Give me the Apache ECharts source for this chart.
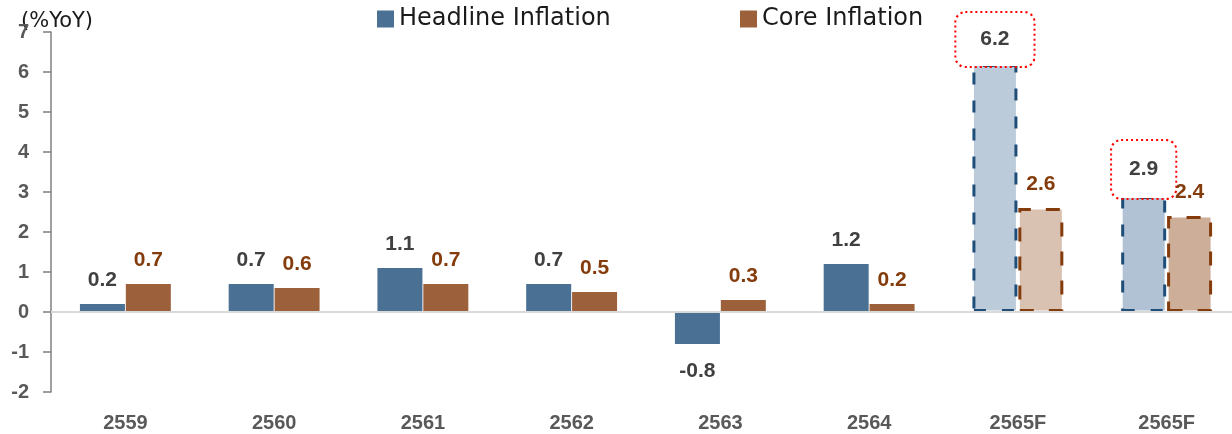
<!DOCTYPE html>
<html>
<head>
<meta charset="utf-8">
<script src="https://cdn.jsdelivr.net/npm/echarts@6/dist/echarts.min.js"></script>
<style>
  html, body { margin: 0; padding: 0; background: #fff; }
  #chart { width: 1232px; height: 434px; }
</style>
</head>
<body>
<div id="chart"></div>
<script>
var years = ['2559', '2560', '2561', '2562', '2563', '2564', '2565F', '2565F'];
var headline = [0.2, 0.7, 1.1, 0.7, -0.8, 1.2, 6.2, 2.9];
var core = [0.7, 0.6, 0.7, 0.5, 0.3, 0.2, 2.6, 2.4];
var yTicks = [-2, -1, 0, 1, 2, 3, 4, 5, 6, 7];

var blue = '#4A7094', brown = '#9C603A';
var textFont = 'DejaVu Sans';
var numFont = 'Liberation Sans';

// forecast columns (last two) get light fill + dashed border
var headFill = ['#BCCBDA', '#B0C2D3'];
var coreFill = ['#D9C2B1', '#CDAE98'];
var boxPad = [[16, 24], [18, 17]];

function buildHead() {
    var arr = [];
    for (var i = 0; i < headline.length; i++) {
        var item = { value: headline[i] };
        if (headline[i] < 0) {
            item.label = { position: 'bottom', distance: 17 };
        }
        if (i >= 6) {
            item.itemStyle = {
                color: headFill[i - 6],
                borderColor: '#1F4E79',
                borderWidth: 3,
                borderType: [12, 16]
            };
            item.label = {
                distance: -2,
                backgroundColor: '#fff',
                borderColor: '#FF0000',
                borderWidth: 2,
                borderType: [2, 3],
                borderRadius: 9,
                padding: boxPad[i - 6]
            };
        }
        arr.push(item);
    }
    return arr;
}

function buildCore() {
    var arr = [];
    for (var i = 0; i < core.length; i++) {
        var item = { value: core[i] };
        if (i >= 6) {
            item.itemStyle = {
                color: coreFill[i - 6],
                borderColor: '#843C0C',
                borderWidth: 3,
                borderType: [14, 15]
            };
        }
        arr.push(item);
    }
    return arr;
}

var myChart = echarts.init(document.getElementById('chart'));
var option = {
    animation: false,
    backgroundColor: '#fff',
    textStyle: { fontFamily: textFont },
    legend: [
        {
            data: ['Headline Inflation'],
            left: 372, top: 2,
            icon: 'rect', itemWidth: 17, itemHeight: 17, itemGap: 8,
            textStyle: { fontSize: 24, color: '#1a1a1a', fontFamily: textFont }
        },
        {
            data: ['Core Inflation'],
            left: 735, top: 2,
            icon: 'rect', itemWidth: 17, itemHeight: 17, itemGap: 8,
            textStyle: { fontSize: 24, color: '#1a1a1a', fontFamily: textFont }
        }
    ],
    grid: {
        left: 51,
        width: 1190,
        top: 32,
        bottom: 42,
        containLabel: false,
        outerBoundsMode: 'none'
    },
    xAxis: {
        type: 'category',
        data: years,
        axisLine: { show: false, onZero: false },
        axisTick: { show: false },
        axisLabel: {
            margin: 21,
            fontSize: 20,
            fontWeight: 'bold',
            fontFamily: numFont,
            color: '#595959'
        }
    },
    yAxis: {
        type: 'value',
        min: yTicks[0],
        max: yTicks[yTicks.length - 1],
        interval: 1,
        name: '(%YoY)',
        nameLocation: 'end',
        nameGap: 0,
        nameMoveOverlap: false,
        nameTextStyle: {
            fontSize: 21,
            color: '#1a1a1a',
            align: 'left',
            verticalAlign: 'bottom',
            padding: [0, 0, 0, -30]
        },
        splitLine: { show: false },
        axisLine: { show: true, lineStyle: { color: '#7F7F7F', width: 1.5 } },
        axisTick: { show: true, length: 8, lineStyle: { color: '#7F7F7F', width: 1.5 } },
        axisLabel: {
            margin: 22,
            fontSize: 20,
            fontWeight: 'bold',
            fontFamily: numFont,
            color: '#595959'
        }
    },
    series: [
        {
            name: 'Headline Inflation',
            type: 'bar',
            barWidth: 45,
            barGap: '2%',
            itemStyle: { color: blue },
            label: {
                show: true,
                position: 'top',
                distance: 13,
                fontSize: 21,
                fontWeight: 'bold',
                fontFamily: numFont,
                color: '#404040',
                formatter: function (p) { return p.value.toFixed(1); }
            },
            data: buildHead()
        },
        {
            name: 'Core Inflation',
            type: 'bar',
            barWidth: 45,
            itemStyle: { color: brown },
            label: {
                show: true,
                position: 'top',
                distance: 13,
                fontSize: 21,
                fontWeight: 'bold',
                fontFamily: numFont,
                color: '#843C0C',
                formatter: function (p) { return p.value.toFixed(1); }
            },
            markLine: {
                silent: true,
                symbol: 'none',
                label: { show: false },
                lineStyle: { color: '#D9D9D9', width: 2, type: 'solid' },
                data: [{ yAxis: 0 }]
            },
            data: buildCore()
        }
    ]
};
myChart.setOption(option);
</script>
</body>
</html>
